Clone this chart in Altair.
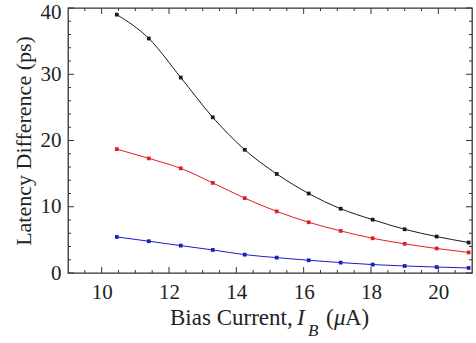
import altair as alt
import pandas as pd

# ---- data ----
bias_current = [10.45, 11.4, 12.35, 13.3, 14.25, 15.2, 16.15, 17.1, 18.05, 19.0, 19.95, 20.9]
black_vals = [39.0, 35.4, 29.5, 23.5, 18.6, 14.95, 12.0, 9.7, 8.05, 6.6, 5.5, 4.6]
red_vals = [18.7, 17.3, 15.8, 13.6, 11.3, 9.3, 7.66, 6.35, 5.24, 4.4, 3.7, 3.1]
blue_vals = [5.44, 4.8, 4.13, 3.48, 2.77, 2.32, 1.92, 1.57, 1.27, 1.06, 0.9, 0.76]
series_names = ["black", "red", "blue"]
series_colors = ["#1a1a1a", "#e0201c", "#1c1cc8"]

x_major_ticks = [10, 12, 14, 16, 18, 20]
x_minor_ticks = [9.5, 10.5, 11, 11.5, 12.5, 13, 13.5, 14.5, 15, 15.5, 16.5, 17, 17.5,
                 18.5, 19, 19.5, 20.5]
y_major_ticks = [0, 10, 20, 30, 40]
y_minor_ticks = [2, 4, 6, 8, 12, 14, 16, 18, 22, 24, 26, 28, 32, 34, 36, 38]

W, H = 404, 265
FONT = "Liberation Serif"

rows = []
for name, vals in zip(series_names, [black_vals, red_vals, blue_vals]):
    for xv, yv in zip(bias_current, vals):
        rows.append({"x": xv, "y": yv, "series": name})
df = pd.DataFrame(rows)

xs = alt.Scale(domain=[9, 21], nice=False, zero=False)
ys = alt.Scale(domain=[0, 40], nice=False)
cs = alt.Scale(domain=series_names, range=series_colors)

x_enc = alt.X("x:Q", scale=xs,
              axis=alt.Axis(values=x_major_ticks, ticks=False, domain=False, grid=False,
                            labelFont=FONT, labelFontSize=21, labelColor="#222",
                            labelPadding=8, title=None))
y_enc = alt.Y("y:Q", scale=ys,
              axis=alt.Axis(values=y_major_ticks, ticks=False, domain=False, grid=False,
                            labelFont=FONT, labelFontSize=21, labelColor="#222",
                            labelPadding=7,
                            labelOffset={"condition": {"test": "datum.value == 40", "value": 4},
                                         "value": 0},
                            title="Latency Difference (ps)",
                            titleFont=FONT, titleFontSize=22, titleFontWeight="normal",
                            titleColor="#222", titlePadding=5))

lines = alt.Chart(df).mark_line(interpolate="monotone", strokeWidth=1).encode(
    x=x_enc, y=y_enc, color=alt.Color("series:N", scale=cs, legend=None),
    detail="series:N")
points = alt.Chart(df).mark_square(size=14, opacity=1).encode(
    x=alt.X("x:Q", scale=xs), y=alt.Y("y:Q", scale=ys),
    color=alt.Color("series:N", scale=cs, legend=None))

def xticks(vals, length):
    d = pd.DataFrame({"t": vals})
    b = alt.Chart(d).mark_rule(color="#333", strokeWidth=1).encode(
        x=alt.X("t:Q", scale=xs), y=alt.value(H), y2=alt.value(H - length))
    t = alt.Chart(d).mark_rule(color="#333", strokeWidth=1).encode(
        x=alt.X("t:Q", scale=xs), y=alt.value(0), y2=alt.value(length))
    return [b, t]

def yticks(vals, length):
    d = pd.DataFrame({"t": vals})
    l = alt.Chart(d).mark_rule(color="#333", strokeWidth=1).encode(
        y=alt.Y("t:Q", scale=ys), x=alt.value(0), x2=alt.value(length))
    r = alt.Chart(d).mark_rule(color="#333", strokeWidth=1).encode(
        y=alt.Y("t:Q", scale=ys), x=alt.value(W), x2=alt.value(W - length))
    return [l, r]

tick_layers = (xticks(x_major_ticks, 6) + xticks(x_minor_ticks, 3)
               + yticks(y_major_ticks, 6) + yticks(y_minor_ticks, 3))

# x-axis title pieces (mixed italic / subscript)
title_parts = pd.DataFrame({
    "txt": ["Bias Current,", "I", "B", "(", "\u03bc", "A)"],
    "px": [102, 229, 240, 258, 266, 277],
    "py": [317, 317, 328, 317, 317, 317],
    "style": ["normal", "italic", "italic", "normal", "italic", "normal"],
    "size": [23, 23, 17, 23, 23, 23],
})
def part(i):
    r = title_parts.iloc[i]
    return alt.Chart(pd.DataFrame({"txt": [r["txt"]]})).mark_text(
        align="left", baseline="alphabetic", font=FONT, fontSize=int(r["size"]),
        fontStyle=r["style"], color="#222").encode(
        text="txt:N", x=alt.value(int(r["px"])), y=alt.value(int(r["py"])))
title_layers = [part(i) for i in range(len(title_parts))]

chart = alt.layer(lines, points, *tick_layers, *title_layers).properties(
    width=W, height=H,
    autosize=alt.AutoSizeParams(type="none"),
    padding={"left": 68, "top": 8, "right": 4, "bottom": 70},
    background="white",
).configure_view(stroke="#333", strokeWidth=1.3)

chart.save("out.html", embed_options={"renderer": "svg", "actions": False})
